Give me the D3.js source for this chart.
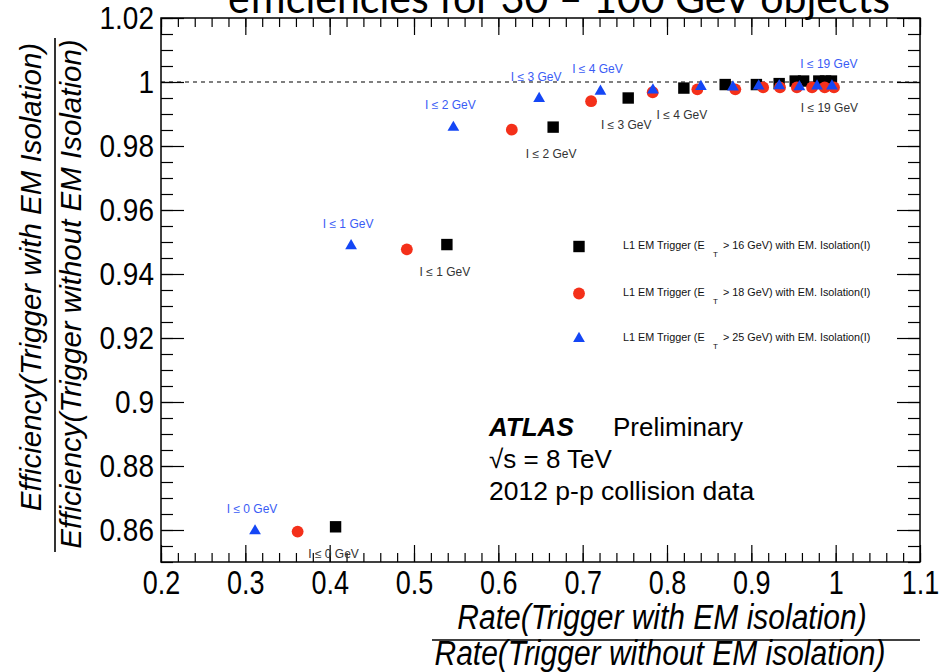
<!DOCTYPE html>
<html>
<head>
<meta charset="utf-8">
<script src="https://cdn.jsdelivr.net/npm/d3@7"></script>
<style>
  body { margin: 0; background: #fff; }
  svg { display: block; }
  text { font-family: "Liberation Sans", Arial, sans-serif; }
</style>
</head>
<body>
<svg id="chart" width="945" height="672"></svg>
<script>
// tick labels
const xTicks = [0.2, 0.3, 0.4, 0.5, 0.6, 0.7, 0.8, 0.9, 1, 1.1];
const yTicks = [0.86, 0.88, 0.9, 0.92, 0.94, 0.96, 0.98, 1, 1.02];

// L1 EM ET > 16 GeV (black squares)
const rate16 = [0.407, 0.539, 0.665, 0.754, 0.820, 0.869, 0.906, 0.933, 0.952, 0.962, 0.980, 0.988, 0.995];
const eff16  = [0.861, 0.9492, 0.9859, 0.995, 0.9981, 0.9992, 0.9992, 0.9995, 1.0003, 1.0003, 1.0003, 1.0003, 1.0003];
// L1 EM ET > 18 GeV (red circles)
const rate18 = [0.362, 0.4915, 0.616, 0.710, 0.783, 0.836, 0.881, 0.914, 0.934, 0.954, 0.972, 0.987, 0.998];
const eff18  = [0.8595, 0.9477, 0.9851, 0.994, 0.9968, 0.9977, 0.9977, 0.9983, 0.9983, 0.9983, 0.9983, 0.9983, 0.9983];
// L1 EM ET > 25 GeV (blue triangles)
const rate25 = [0.3115, 0.4254, 0.5467, 0.6484, 0.7211, 0.7833, 0.8402, 0.8782, 0.9087, 0.9331, 0.957, 0.9779, 0.9956];
const eff25  = [0.8597, 0.9488, 0.9858, 0.9948, 0.9971, 0.9975, 0.9986, 0.9984, 0.9987, 0.9988, 0.9985, 0.9987, 0.9987];

// isolation cut labels: which point, which cut
const labelIdx = [0, 1, 2, 3, 4, 12];
const labelCut = [0, 1, 2, 3, 4, 19];

const legendText = ["16", "18", "25"];

const svg = d3.select("svg#chart");
const frame = { left: 161, right: 920, top: 18, bottom: 562 };

const x = d3.scaleLinear().domain([0.2, 1.1]).range([frame.left, frame.right]);
const y = d3.scaleLinear().domain([0.85, 1.02]).range([frame.bottom, frame.top]);

// title, cut off at the top
svg.append("text")
    .attr("x", 228).attr("y", 13)
    .attr("textLength", 662).attr("lengthAdjust", "spacingAndGlyphs")
    .style("font-family", "Lato, 'Open Sans', sans-serif")
    .style("font-size", "42px")
    .attr("fill", "#000")
    .text("efficiencies for 30 \u2013 100 GeV objects");

// ticks
const xMinor = d3.range(0.2, 1.1001, 0.02);
const yMinor = d3.range(0.85, 1.0201, 0.005);

function tickAxis(axis, tr) {
    const g = svg.append("g").attr("transform", tr).call(axis);
    g.select(".domain").remove();
    g.selectAll(".tick line").attr("stroke", "#000").attr("stroke-width", 1.2);
    return g;
}

tickAxis(d3.axisBottom(x).tickValues(xMinor).tickSize(-9).tickFormat(""), `translate(0,${frame.bottom})`);
tickAxis(d3.axisTop(x).tickValues(xMinor).tickSize(-9).tickFormat(""), `translate(0,${frame.top})`);
tickAxis(d3.axisLeft(y).tickValues(yMinor).tickSize(-12).tickFormat(""), `translate(${frame.left},0)`);
tickAxis(d3.axisRight(y).tickValues(yMinor).tickSize(-12).tickFormat(""), `translate(${frame.right},0)`);

const bottomAxis = tickAxis(d3.axisBottom(x).tickValues(xTicks).tickSize(-17).tickFormat(d => String(d)),
    `translate(0,${frame.bottom})`);
bottomAxis.selectAll(".tick text")
    .attr("y", 0).attr("dy", null)
    .attr("transform", "translate(0,32) scale(1,1.2)")
    .attr("fill", "#000")
    .style("font-size", "27px")
    .style("font-family", "'Liberation Sans', Arial, sans-serif");

tickAxis(d3.axisTop(x).tickValues(xTicks).tickSize(-17).tickFormat(""), `translate(0,${frame.top})`);

const leftAxis = tickAxis(d3.axisLeft(y).tickValues(yTicks).tickSize(-23).tickFormat(d => String(d)),
    `translate(${frame.left},0)`);
leftAxis.selectAll(".tick text")
    .attr("x", 0).attr("dy", null).attr("y", 0)
    .attr("text-anchor", "end")
    .attr("transform", "translate(-7,10) scale(1,1.15)")
    .attr("fill", "#000")
    .style("font-size", "28px")
    .style("font-family", "'Liberation Sans', Arial, sans-serif");

tickAxis(d3.axisRight(y).tickValues(yTicks).tickSize(-23).tickFormat(""), `translate(${frame.right},0)`);

// frame
svg.append("rect")
    .attr("x", frame.left).attr("y", frame.top)
    .attr("width", frame.right - frame.left).attr("height", frame.bottom - frame.top)
    .attr("fill", "none").attr("stroke", "#000").attr("stroke-width", 1.5);

// dashed line at 1
svg.append("line")
    .attr("x1", x(0.2)).attr("x2", x(1.1))
    .attr("y1", y(1)).attr("y2", y(1))
    .attr("stroke", "#000").attr("stroke-width", 1.2)
    .attr("stroke-dasharray", "4,4");

// markers
const colBlack = "#000", colRed = "#f4301a", colBlue = "#1446f5";
const symSquare = d3.symbol().type(d3.symbolSquare).size(130);
const symCircle = d3.symbol().type(d3.symbolCircle).size(110);
const symTri = d3.symbol().type(d3.symbolTriangle).size(60);

function drawSeries(rx, ry, sym, col) {
    svg.append("g").selectAll("path")
        .data(rx.map((d, i) => [d, ry[i]]))
        .join("path")
        .attr("d", sym)
        .attr("transform", d => `translate(${x(d[0])},${y(d[1])})`)
        .attr("fill", col);
}
drawSeries(rate16, eff16, symSquare, colBlack);
drawSeries(rate18, eff18, symCircle, colRed);
drawSeries(rate25, eff25, symTri, colBlue);

// isolation labels
svg.append("g").selectAll("text")
    .data(labelIdx)
    .join("text")
    .attr("x", (d) => x(rate16[d]) - 2)
    .attr("y", (d) => y(eff16[d]) + 31)
    .attr("text-anchor", "middle")
    .attr("fill", "#333")
    .style("font-size", "12px")
    .text((d, i) => `I \u2264 ${labelCut[i]} GeV`);

svg.append("g").selectAll("text")
    .data(labelIdx)
    .join("text")
    .attr("x", (d) => x(rate25[d]) - 3)
    .attr("y", (d) => y(eff25[d]) - 18)
    .attr("text-anchor", "middle")
    .attr("fill", "#3a5cf5")
    .style("font-size", "12px")
    .text((d, i) => `I \u2264 ${labelCut[i]} GeV`);

// legend
const legendSyms = [symSquare, symCircle, symTri];
const legendCols = [colBlack, colRed, colBlue];
const legendY = [246.5, 293.5, 338.5];
legendText.forEach((t, i) => {
    const g = svg.append("g");
    g.append("path")
        .attr("d", legendSyms[i])
        .attr("transform", `translate(579,${legendY[i]})`)
        .attr("fill", legendCols[i]);
    g.append("text").attr("x", 623).attr("y", legendY[i] + 2.5)
        .style("font-size", "10.8px").attr("fill", "#111")
        .text("L1 EM Trigger (E");
    g.append("text").attr("x", 713).attr("y", legendY[i] + 10)
        .style("font-size", "8px").attr("fill", "#111")
        .text("T");
    g.append("text").attr("x", 723).attr("y", legendY[i] + 2.5)
        .style("font-size", "10.8px").attr("fill", "#111")
        .text(`> ${t} GeV) with EM. Isolation(I)`);
});

// ATLAS label
svg.append("text").attr("x", 489).attr("y", 436)
    .style("font-size", "26px").style("font-weight", "bold").style("font-style", "italic")
    .text("ATLAS");
svg.append("text").attr("x", 613).attr("y", 436)
    .style("font-size", "26px")
    .text("Preliminary");
svg.append("text").attr("x", 489).attr("y", 468)
    .style("font-size", "26px")
    .text("\u221As = 8 TeV");
svg.append("text").attr("x", 489).attr("y", 500)
    .style("font-size", "26.5px")
    .text("2012 p-p collision data");

// x title (fraction)
svg.append("text")
    .attr("transform", "translate(662,629) scale(1,1.15)")
    .attr("text-anchor", "middle")
    .style("font-size", "30px").style("font-style", "italic")
    .text("Rate(Trigger with EM isolation)");
svg.append("line")
    .attr("x1", 432).attr("x2", 920).attr("y1", 640).attr("y2", 640)
    .attr("stroke", "#000").attr("stroke-width", 1.6);
svg.append("text")
    .attr("transform", "translate(660,665) scale(1,1.15)")
    .attr("text-anchor", "middle")
    .style("font-size", "30px").style("font-style", "italic")
    .text("Rate(Trigger without EM isolation)");

// y title (fraction)
const yTitle = svg.append("g").attr("transform", "rotate(-90)");
yTitle.append("text")
    .attr("x", -277).attr("y", 41)
    .attr("text-anchor", "middle")
    .style("font-size", "29.5px").style("font-style", "italic")
    .text("Efficiency(Trigger with EM Isolation)");
yTitle.append("text")
    .attr("x", -294).attr("y", 81)
    .attr("text-anchor", "middle")
    .style("font-size", "29.5px").style("font-style", "italic")
    .text("Efficiency(Trigger without EM Isolation)");
svg.append("line")
    .attr("x1", 55).attr("x2", 55).attr("y1", 38).attr("y2", 552)
    .attr("stroke", "#000").attr("stroke-width", 1.6);
</script>
</body>
</html>
